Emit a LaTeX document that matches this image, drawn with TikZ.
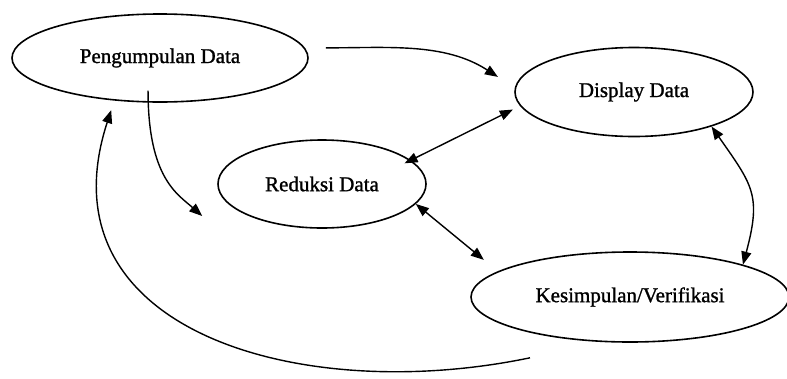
\documentclass[tikz,border=0pt]{standalone}
\usepackage{fontspec}
\setmainfont{Liberation Serif}
\newfontfamily\stagefont{Liberation Serif}[FakeBold=1.2]
\usetikzlibrary{arrows.meta}
\usetikzlibrary{shapes.geometric}
\usetikzlibrary{positioning}
\tikzset{stage/.style={draw, ellipse, line width=1.6pt, inner sep=0pt,
  font=\stagefont\fontsize{21}{24}\selectfont}}
\tikzset{flow/.style={line width=1.4pt, >={Triangle[length=13pt,width=10pt]}}}

\begin{document}
\begin{tikzpicture}[x=1pt, y=-1pt]
  \useasboundingbox (0,0) rectangle (787,378);

  \node [stage, minimum width=296pt, minimum height=88pt] (pengumpulan) at (160, 58) {Pengumpulan Data};
  \node [stage, minimum width=238pt, minimum height=89pt] (display) at (634, 92) {Display Data};
  \node [stage, minimum width=208pt, minimum height=88pt] (reduksi) at (322, 184) {Reduksi Data};
  \node [stage, minimum width=318pt, minimum height=90pt] (kesimpulan) at (630, 297) {Kesimpulan/Verifikasi};

  \coordinate [below left=32pt and 15pt of reduksi.west] (reduksi-in);
  \coordinate [below left=15pt and 100pt of kesimpulan.south] (kesimpulan-out);

  \draw [flow, ->, shorten <=21pt, shorten >=20pt] (pengumpulan.4) to[out=0, in=147] (display.178);
  \draw [flow, ->, shorten <=-12pt] (pengumpulan.255) .. controls +(0,75) and +(-25,-22) .. (reduksi-in);
  \draw [flow, <->, shorten <=-7pt, shorten >=8pt] (reduksi.15) -- (display.187);
  \draw [flow, <->, shorten >=18pt] (reduksi.-12) -- (kesimpulan.169);
  \draw [flow, <->] (display.-24) to[out=-55, in=75, looseness=1.3] (kesimpulan.16);
  \draw [flow, ->, shorten >=10pt] (kesimpulan-out) .. controls +(-230,48) and +(-75,230) .. (pengumpulan.223);
\end{tikzpicture}
\end{document}
